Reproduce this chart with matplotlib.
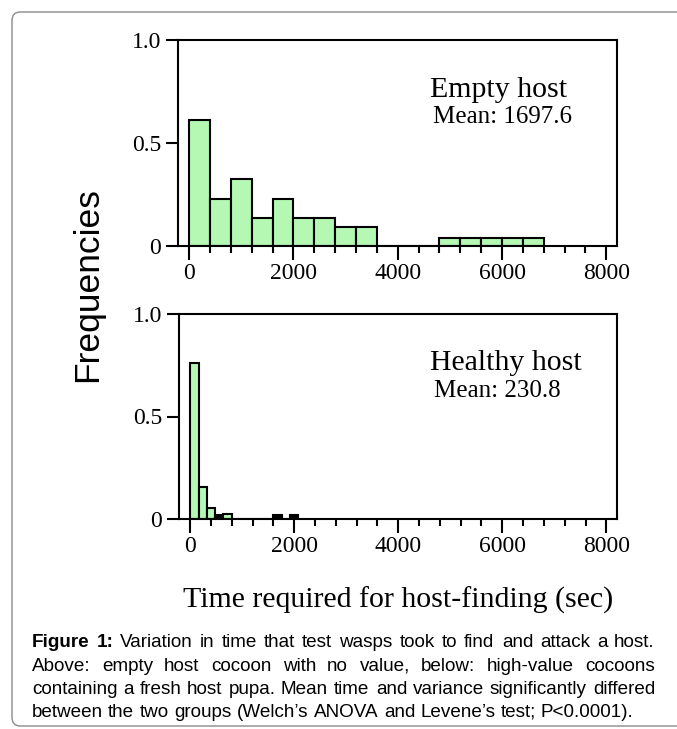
import matplotlib
matplotlib.use('Agg')
import matplotlib.pyplot as plt
from matplotlib.patches import FancyBboxPatch
import numpy as np

# histogram data (relative frequencies)
empty_bin_width = 400
empty_freq = [0.61, 0.23, 0.325, 0.135, 0.23, 0.135, 0.135, 0.09, 0.09,
              0, 0, 0, 0.04, 0.04, 0.04, 0.04, 0.04]
healthy_bin_width = 160
healthy_freq = [0.76, 0.155, 0.052, 0.02, 0.022, 0, 0, 0, 0, 0, 0.02, 0, 0.02]
healthy_dark = [3, 10, 12]   # bins printed solid black in the original

panel_titles = ['Empty host', 'Healthy host']
panel_means = ['Mean: 1697.6', 'Mean: 230.8']
xticks = [0, 2000, 4000, 6000, 8000]
yticks = [0, 0.5, 1.0]
yticklabels = ['0', '0.5', '1.0']

caption_lines = [
    [('Figure', True), ('1:', True)] + [(w, False) for w in
     'Variation in time that test wasps took to find and attack a host.'.split()],
    [(w, False) for w in 'Above: empty host cocoon with no value, below: high-value cocoons'.split()],
    [(w, False) for w in 'containing a fresh host pupa. Mean time and variance significantly differed'.split()],
    [(w, False) for w in "between the two groups (Welch\u2019s ANOVA and Levene\u2019s test; P<0.0001).".split()],
]

W, H = 677, 729
serif = 'Liberation Serif'
sans = 'Liberation Sans'
green = '#b4f8b4'

fig = plt.figure(figsize=(W / 100, H / 100), dpi=100)

# rounded frame around the figure
box = FancyBboxPatch((12 / W, 3 / H), 700 / W, 714 / H,
                     boxstyle='round,pad=0,rounding_size=0.012',
                     transform=fig.transFigure, fill=False,
                     edgecolor='#8a8a8a', linewidth=1.0, clip_on=False)
fig.patches.append(box)

ax_top = fig.add_axes([178 / W, 1 - 246 / H, 439 / W, 206 / H])
ax_bot = fig.add_axes([179 / W, 1 - 519 / H, 438 / W, 205 / H])

data = [(ax_top, empty_freq, empty_bin_width, []),
        (ax_bot, healthy_freq, healthy_bin_width, healthy_dark)]
for i, (ax, freq, bw, dark) in enumerate(data):
    lefts = np.arange(len(freq)) * bw
    colors = ['black' if k in dark else green for k in range(len(freq))]
    ax.bar(lefts, freq, width=bw, align='edge', color=colors,
           edgecolor='black', linewidth=1.5)
    ax.set_xlim(-215, 8205)
    ax.set_ylim(0, 1)
    for s in ax.spines.values():
        s.set_linewidth(1.5)
    ax.set_yticks(yticks)
    ax.set_yticklabels(yticklabels, fontfamily=serif, fontsize=17)
    ax.set_xticks(xticks)
    ax.set_xticks(np.arange(0, 8001, 400), minor=True)
    ax.set_xticklabels([str(x) for x in xticks], fontfamily=serif, fontsize=17)
    ax.tick_params(axis='y', direction='out', length=9, width=1.5, pad=3)
    ax.tick_params(axis='x', which='major', direction='out', length=10, width=1.5, pad=2)
    ax.tick_params(axis='x', which='minor', direction='out', length=5, width=1.5)
    ax.text(0.573, 0.725, panel_titles[i], transform=ax.transAxes,
            fontfamily=serif, fontsize=21.5, ha='left', va='baseline')
    ax.text(0.582, 0.595, panel_means[i], transform=ax.transAxes,
            fontfamily=serif, fontsize=18, ha='left', va='baseline')

fig.text(88 / W, 1 - 285 / H, 'Frequencies', rotation=90, fontfamily=sans,
         fontsize=25.5, ha='center', va='center')
fig.text(398 / W, 1 - 608 / H, 'Time required for host-finding (sec)',
         fontfamily=serif, fontsize=21.5, ha='center', va='baseline')

# justified caption
renderer = fig.canvas.get_renderer()
cap_left, cap_right = 32, 655
baselines = [647, 671, 694, 717]
for li, words in enumerate(caption_lines):
    texts = []
    ypos = (H - baselines[li] + 0.4) / H
    for w, bold in words:
        t = fig.text(0, ypos, w, fontfamily=sans, fontsize=13.6,
                     fontweight='bold' if bold else 'normal', va='baseline', ha='left')
        texts.append(t)
    widths = [t.get_window_extent(renderer).width for t in texts]
    if li < len(caption_lines) - 1:
        gap = (cap_right - cap_left - sum(widths)) / (len(texts) - 1)
    else:
        gap = 5.3
    x = cap_left
    for t, wd in zip(texts, widths):
        t.set_x(round(x) / W)
        x += wd + gap

fig.savefig('out.png', dpi=100)
